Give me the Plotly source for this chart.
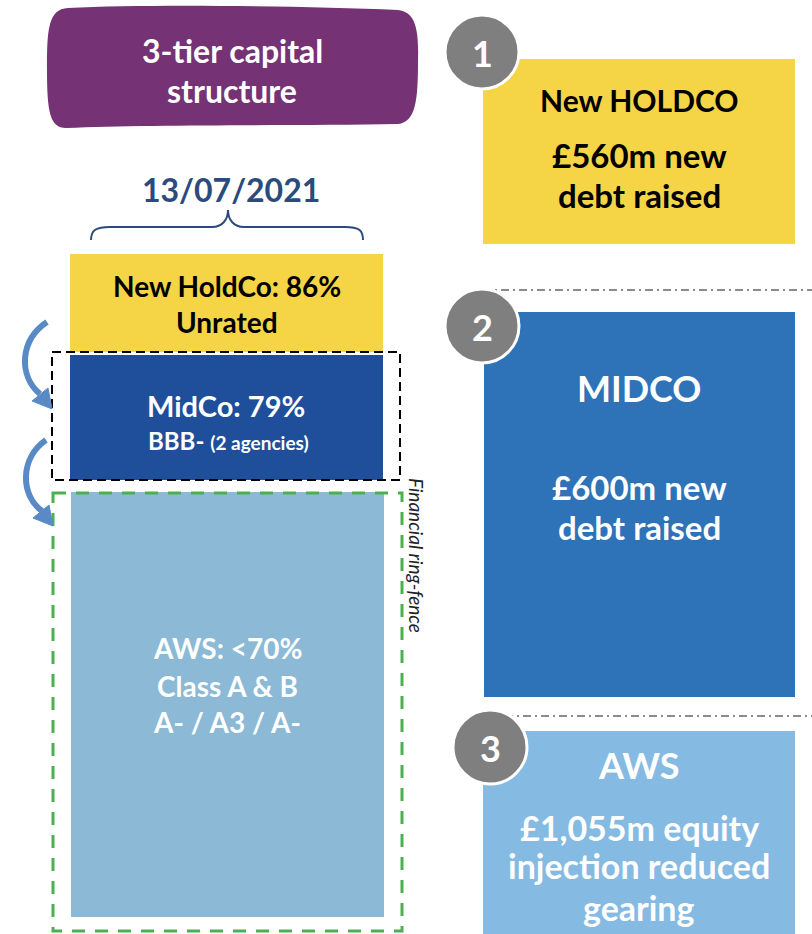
import plotly.graph_objects as go

# ---- data ----
title_text = "3-tier capital structure"
as_of_date = "13/07/2021"
tiers = ["New HoldCo", "MidCo", "AWS"]
gearing = ["86%", "79%", "<70%"]
ratings = ["Unrated", "BBB-", "A- / A3 / A-"]
rating_notes = ["", "(2 agencies)", ""]
aws_classes = "Class A & B"
ring_fence_label = "Financial ring-fence"
step_numbers = ["1", "2", "3"]
step_titles = ["New HOLDCO", "MIDCO", "AWS"]
step_amounts = ["£560m", "£600m", "£1,055m"]
step_texts = [["£560m new", "debt raised"], ["£600m new", "debt raised"],
              ["£1,055m equity", "injection reduced", "gearing"]]

# ---- styling / layout ----
W, H = 812, 934
FONT = "Lato, 'Open Sans', sans-serif"
PURPLE = "#753274"
YELLOW = "#F5D445"
MID_DARK = "#1F4E9B"
AWS_LEFT = "#8BB9D6"
MID_RIGHT = "#2E72B8"
AWS_RIGHT = "#85BAE3"
GREY = "#7F7F7F"
ARROW = "#5A8AC6"
NAVY = "#2B4B7C"

fig = go.Figure()
shapes = []
ann = []

def rect(x0, y0, x1, y1, fill, line=None):
    shapes.append(dict(type="rect", x0=x0, y0=y0, x1=x1, y1=y1, fillcolor=fill,
                       line=line or dict(width=0), layer="below"))

def text(x, y, s, size, color, **kw):
    ann.append(dict(x=x, y=y, text=s, showarrow=False, xanchor="center", yanchor="middle",
                    font=dict(family=FONT, size=size, color=color), **kw))

# purple title blob
shapes.append(dict(type="path",
    path="M 68,8 C 150,4 300,6 398,10 C 415,12 419,28 418,60 C 418,100 416,122 398,124 "
         "C 300,126 150,124 66,128 C 50,128 47,112 47,70 C 47,30 48,9 68,8 Z",
    fillcolor=PURPLE, line=dict(width=0), layer="below"))
text(232, 50, "<b>3-tier capital</b>", 32, "white")
text(232, 90, "<b>structure</b>", 32, "white")

# date + brace
text(231, 189, f"<b>{as_of_date}</b>", 32, NAVY)
shapes.append(dict(type="path",
    path="M 91,240 C 91,230 96,227 110,227 L 212,227 C 222,227 228,220 228,210 "
         "C 228,220 234,227 244,227 L 345,227 C 359,227 363,230 363,240",
    line=dict(color=NAVY, width=2)))

# left stack
rect(70, 254, 383, 352, YELLOW)
rect(70, 355, 383, 480, MID_DARK)
rect(71, 492, 384, 917, AWS_LEFT)
text(227, 286, f"<b>{tiers[0]}: {gearing[0]}</b>", 28, "black")
text(227, 322, f"<b>{ratings[0]}</b>", 28, "black")
text(226, 405, f"<b>{tiers[1]}: {gearing[1]}</b>", 29, "white")
text(228, 440, f"<b>{ratings[1]} <span style='font-size:19px'>{rating_notes[1]}</span></b>", 24, "white")
text(227, 648, f"<b>{tiers[2]}: {gearing[2]}</b>", 28, "white")
text(227, 686, f"<b>{aws_classes}</b>", 28, "white")
text(227, 722, f"<b>{ratings[2]}</b>", 28, "white")

# dashed boxes
shapes.append(dict(type="rect", x0=52, y0=352, x1=400, y1=480,
                   line=dict(color="black", width=2, dash="9px,5px")))
shapes.append(dict(type="rect", x0=53, y0=493, x1=402, y1=931,
                   line=dict(color="#4CAF50", width=3, dash="13px,10px")))
text(417, 555, f"<i>{ring_fence_label}</i>", 19, "#222", textangle=90)

# curved arrows
shapes.append(dict(type="path", path="M 47,322 C 20,340 18,375 40,394",
                   line=dict(color=ARROW, width=6)))
shapes.append(dict(type="path", path="M 52,409 L 32,401 L 48,388 Z",
                   fillcolor=ARROW, line=dict(color=ARROW, width=1)))
shapes.append(dict(type="path", path="M 46,440 C 20,458 20,495 42,511",
                   line=dict(color=ARROW, width=6)))
shapes.append(dict(type="path", path="M 53,526 L 33,518 L 49,505 Z",
                   fillcolor=ARROW, line=dict(color=ARROW, width=1)))

# right side boxes
rect(483, 59, 795, 244, YELLOW)
rect(484, 312, 795, 697, MID_RIGHT)
rect(483, 731, 795, 940, AWS_RIGHT)

# dash-dot separators
for y, x0 in [(290, 483), (716, 505)]:
    shapes.append(dict(type="line", x0=x0, x1=812, y0=y, y1=y,
                       line=dict(color="#8C8C8C", width=2, dash="8px,4px,2px,4px")))

# numbered circles
for (cx, cy), n in zip([(482, 52), (482, 326), (490, 747)], step_numbers):
    r = 37
    shapes.append(dict(type="circle", x0=cx - r, x1=cx + r, y0=cy - r, y1=cy + r,
                       fillcolor=GREY, line=dict(color="white", width=3)))
    text(cx, cy + 1, f"<b>{n}</b>", 36, "white")

# right texts
text(639, 100, f"<b>{step_titles[0]}</b>", 30, "black")
text(639, 155, f"<b>{step_texts[0][0]}</b>", 33, "black")
text(639, 195, f"<b>{step_texts[0][1]}</b>", 33, "black")

text(639, 388, f"<b>{step_titles[1]}</b>", 36, "white")
text(639, 487, f"<b>{step_texts[1][0]}</b>", 33, "white")
text(639, 527, f"<b>{step_texts[1][1]}</b>", 33, "white")

text(639, 765, f"<b>{step_titles[2]}</b>", 36, "white")
text(639, 827, f"<b>{step_texts[2][0]}</b>", 34, "white")
text(639, 865, f"<b>{step_texts[2][1]}</b>", 34, "white")
text(639, 907, f"<b>{step_texts[2][2]}</b>", 34, "white")

fig.update_layout(
    width=W, height=H, margin=dict(l=0, r=0, t=0, b=0),
    paper_bgcolor="white", plot_bgcolor="white",
    xaxis=dict(range=[0, W], visible=False, fixedrange=True),
    yaxis=dict(range=[H, 0], visible=False, fixedrange=True),
    shapes=shapes, annotations=ann, showlegend=False,
)
fig.write_html("out.html", config={"displayModeBar": False},
               post_script="document.body.style.margin='0';document.body.style.overflow='hidden';")
